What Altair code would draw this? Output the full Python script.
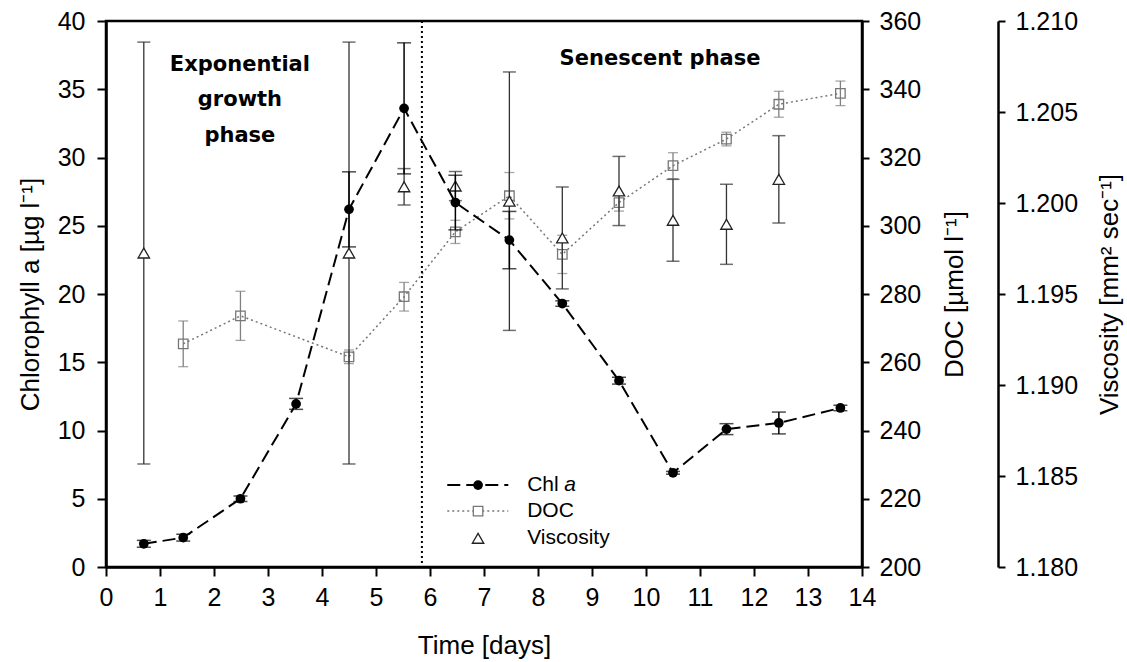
import altair as alt
import pandas as pd

# ---------------- data ----------------
chl_day = [0.7, 1.43, 2.49, 3.52, 4.5, 5.52, 6.47, 7.47, 8.45, 9.5, 10.5, 11.49, 12.46, 13.6]
chl_val = [1.7, 2.15, 5.0, 11.95, 26.2, 33.6, 26.7, 23.95, 19.3, 13.65, 6.9, 10.1, 10.55, 11.65]
chl_err = [0.25, 0.25, 0.2, 0.4, 2.75, 4.8, 2.0, 2.1, 0.2, 0.25, 0.1, 0.4, 0.8, 0.2]

doc_day = [1.43, 2.49, 4.5, 5.52, 6.47, 7.47, 8.45, 9.5, 10.5, 11.49, 12.46, 13.6]
doc_val = [265.4, 273.6, 261.6, 279.2, 298.2, 308.8, 291.6, 306.8, 317.6, 325.4, 335.6, 338.8]
doc_err = [6.7, 7.2, 2.0, 4.2, 3.4, 6.8, 5.6, 2.5, 3.8, 2.0, 3.8, 3.6]

visc_day = [0.7, 4.5, 5.52, 6.47, 7.47, 8.45, 9.5, 10.5, 11.49, 12.46]
visc_val = [1.19725, 1.19725, 1.20089, 1.20093, 1.2001, 1.19808, 1.20066, 1.19905, 1.19883, 1.2013]
visc_err = [0.01159, 0.01159, 0.001, 0.0008, 0.0071, 0.0028, 0.0019, 0.00225, 0.0022, 0.0024]

phase_split = [5.85]

# annotation text (positions in data units)
phase_text = ["Exponential", "growth", "phase", "Senescent phase"]
phase_x = [2.48, 2.48, 2.48, 10.26]
phase_y = [36.8, 34.2, 31.6, 37.2]

# legend (positions in data units of the Chl a axis)
leg_text = ["Chl", "DOC", "Viscosity"]
leg_y = [6.0, 4.1, 2.1]
leg_x0, leg_x1, leg_xm, leg_xt = 6.32, 7.45, 6.89, 7.80

# ---------------- tables ----------------
chl = pd.DataFrame({"day": chl_day, "v": chl_val,
                    "lo": [v - e for v, e in zip(chl_val, chl_err)],
                    "hi": [v + e for v, e in zip(chl_val, chl_err)]})
doc = pd.DataFrame({"day": doc_day, "v": doc_val,
                    "lo": [v - e for v, e in zip(doc_val, doc_err)],
                    "hi": [v + e for v, e in zip(doc_val, doc_err)]})
visc = pd.DataFrame({"day": visc_day, "v": visc_val,
                     "lo": [v - e for v, e in zip(visc_val, visc_err)],
                     "hi": [v + e for v, e in zip(visc_val, visc_err)]})
split = pd.DataFrame({"day": phase_split})
ptext = pd.DataFrame({"day": phase_x, "v": phase_y, "t": phase_text})
leg = pd.DataFrame({"x0": [leg_x0] * 3, "x1": [leg_x1] * 3, "xm": [leg_xm] * 3,
                    "xt": [leg_xt] * 3, "v": leg_y, "t": leg_text})

FONT = "Liberation Sans"

x_axis = alt.Axis(values=list(range(15)), title="Time [days]", format="d",
                  tickSize=9, labelPadding=9, titlePadding=22, labelFlush=False)
xs = alt.Scale(domain=[0, 14], nice=False, zero=False)


def X(field="day"):
    return alt.X(f"{field}:Q", scale=xs, axis=x_axis)


# ---- Chl a group ----
chl_axis = alt.Axis(orient="left", values=list(range(0, 41, 5)), title="Chlorophyll a [µg l⁻¹]",
                    tickSize=9, labelPadding=12, titlePadding=14)
chl_scale = alt.Scale(domain=[0, 40], nice=False, zero=False)


def YC(field):
    return alt.Y(f"{field}:Q", scale=chl_scale, axis=chl_axis)


chl_rule = alt.Chart(chl).mark_rule(color="black", strokeWidth=1.5).encode(
    x=X(), y=YC("lo"), y2="hi")
chl_cap_lo = alt.Chart(chl).mark_tick(orient="horizontal", size=14, thickness=1.5, color="black").encode(
    x=X(), y=YC("lo"))
chl_cap_hi = alt.Chart(chl).mark_tick(orient="horizontal", size=14, thickness=1.5, color="black").encode(
    x=X(), y=YC("hi"))
chl_line = alt.Chart(chl).mark_line(color="black", strokeWidth=2, strokeDash=[13, 6]).encode(
    x=X(), y=YC("v"))
chl_pts = alt.Chart(chl).mark_point(shape="circle", filled=True, color="black", size=95, opacity=1).encode(
    x=X(), y=YC("v"))

split_rule = alt.Chart(split).mark_rule(color="black", strokeWidth=2, strokeDash=[2, 3]).encode(x=X())

phase_lbl = alt.Chart(ptext).mark_text(font="DejaVu Sans", fontWeight="bold", fontSize=21,
                                       align="center", baseline="middle", color="black").encode(
    x=X(), y=YC("v"), text="t:N")

leg_chl_line = alt.Chart(leg.iloc[[0]]).mark_rule(color="black", strokeWidth=2, strokeDash=[13, 6]).encode(
    x=X("x0"), x2="x1", y=YC("v"))
leg_doc_line = alt.Chart(leg.iloc[[1]]).mark_rule(color="#777777", strokeWidth=1.5, strokeDash=[2, 3]).encode(
    x=X("x0"), x2="x1", y=YC("v"))
leg_chl_pt = alt.Chart(leg.iloc[[0]]).mark_point(shape="circle", filled=True, color="black", size=95,
                                                 opacity=1).encode(x=X("xm"), y=YC("v"))
leg_doc_pt = alt.Chart(leg.iloc[[1]]).mark_point(shape="square", filled=False, fill="white", color="#777777",
                                                 size=90, strokeWidth=1.3, opacity=1).encode(x=X("xm"), y=YC("v"))
leg_visc_pt = alt.Chart(leg.iloc[[2]]).mark_point(shape="triangle-up", filled=False, fill="white", color="#222222",
                                                  size=130, strokeWidth=1.3, opacity=1).encode(x=X("xm"), y=YC("v"))
leg_txt = alt.Chart(leg).mark_text(font=FONT, fontSize=21, align="left", baseline="middle", color="black").encode(
    x=X("xt"), y=YC("v"), text="t:N")
leg_a = alt.Chart(leg.iloc[[0]]).mark_text(font=FONT, fontSize=21, fontStyle="italic", align="left",
                                           baseline="middle", color="black", dx=37, text="a").encode(
    x=X("xt"), y=YC("v"))

# ---- DOC group ----
doc_axis = alt.Axis(orient="right", values=list(range(200, 361, 20)), title="DOC [µmol l⁻¹]",
                    tickSize=7, labelPadding=10, titlePadding=47, titleAngle=270)
doc_scale = alt.Scale(domain=[200, 360], nice=False, zero=False)


def YD(field):
    return alt.Y(f"{field}:Q", scale=doc_scale, axis=doc_axis)


GRAY = "#808080"
doc_rule = alt.Chart(doc).mark_rule(color=GRAY, strokeWidth=1.3).encode(x=X(), y=YD("lo"), y2="hi")
doc_cap_lo = alt.Chart(doc).mark_tick(orient="horizontal", size=10, thickness=1.3, color=GRAY).encode(
    x=X(), y=YD("lo"))
doc_cap_hi = alt.Chart(doc).mark_tick(orient="horizontal", size=10, thickness=1.3, color=GRAY).encode(
    x=X(), y=YD("hi"))
doc_line = alt.Chart(doc).mark_line(color="#777777", strokeWidth=1.5, strokeDash=[2, 3]).encode(
    x=X(), y=YD("v"))
doc_pts = alt.Chart(doc).mark_point(shape="square", filled=False, color="#777777", size=90,
                                    strokeWidth=1.3, opacity=1).encode(x=X(), y=YD("v"))

# ---- Viscosity group ----
visc_axis = alt.Axis(orient="right", offset=136, values=[1.18, 1.185, 1.19, 1.195, 1.2, 1.205, 1.21],
                     format=".3f", title="Viscosity [mm² sec⁻¹]", tickSize=7, labelPadding=10,
                     titlePadding=45, titleAngle=270)
visc_scale = alt.Scale(domain=[1.18, 1.21], nice=False, zero=False)


def YV(field):
    return alt.Y(f"{field}:Q", scale=visc_scale, axis=visc_axis)


VC = "#333333"
visc_rule = alt.Chart(visc).mark_rule(color=VC, strokeWidth=1.3).encode(x=X(), y=YV("lo"), y2="hi")
visc_cap_lo = alt.Chart(visc).mark_tick(orient="horizontal", size=13, thickness=1.5, color=VC).encode(
    x=X(), y=YV("lo"))
visc_cap_hi = alt.Chart(visc).mark_tick(orient="horizontal", size=13, thickness=1.5, color=VC).encode(
    x=X(), y=YV("hi"))
visc_pts = alt.Chart(visc).mark_point(shape="triangle-up", filled=False, fill="white", color="#222222",
                                      size=130, strokeWidth=1.3, opacity=1).encode(x=X(), y=YV("v"))

g_doc = alt.layer(doc_rule, doc_cap_lo, doc_cap_hi, doc_line, doc_pts)
g_visc = alt.layer(visc_rule, visc_cap_lo, visc_cap_hi, visc_pts)
g_chl = alt.layer(chl_rule, chl_cap_lo, chl_cap_hi, split_rule, phase_lbl, chl_line, chl_pts,
                  leg_chl_line, leg_doc_line, leg_chl_pt, leg_doc_pt, leg_visc_pt, leg_txt, leg_a)

chart = alt.layer(g_doc, g_visc, g_chl).resolve_scale(y="independent").properties(
    width=756, height=546,
    autosize=alt.AutoSizeParams(type="none"),
    padding={"left": 106, "top": 21, "right": 265, "bottom": 95},
    background="white",
).configure_view(
    stroke="black", strokeWidth=2.5
).configure_axis(
    grid=False, domainColor="black", domainWidth=2.5, tickColor="black", tickWidth=2,
    labelFont=FONT, labelFontSize=25, labelColor="black",
    titleFont=FONT, titleFontSize=26, titleFontWeight="normal", titleColor="black",
)

chart.save("out.html", embed_options={"renderer": "svg", "actions": False})
